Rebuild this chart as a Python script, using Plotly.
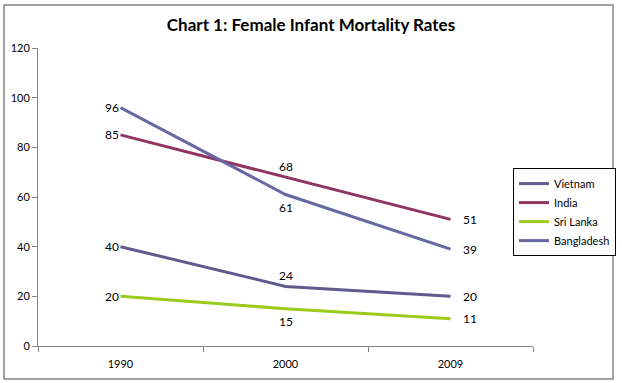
import plotly.graph_objects as go

years = ["1990", "2000", "2009"]
vietnam = [40, 24, 20]
india = [85, 68, 51]
sri_lanka = [20, 15, 11]
bangladesh = [96, 61, 39]

# label placement per point: (xshift, yshift) in pixels
LEFT = (-9, 0)
ABOVE = (0, 11)
BELOW = (0, -13)
RIGHT = (19, 0)

series = [
    ("Vietnam", vietnam, "#5F5B8E", [LEFT, ABOVE, RIGHT]),
    ("India", india, "#903460", [LEFT, ABOVE, RIGHT]),
    ("Sri Lanka", sri_lanka, "#9BCB1B", [LEFT, BELOW, RIGHT]),
    ("Bangladesh", bangladesh, "#6767A3", [LEFT, BELOW, RIGHT]),
]

fig = go.Figure()
annotations = []
for name, vals, color, pos in series:
    fig.add_trace(go.Scatter(
        x=years, y=vals, name=name, mode="lines",
        line=dict(color=color, width=3),
        cliponaxis=False,
    ))
    for i, (v, (dx, dy)) in enumerate(zip(vals, pos)):
        annotations.append(dict(
            x=i, y=v, xref="x", yref="y", text=str(v), showarrow=False,
            xshift=dx, yshift=dy, xanchor="center", yanchor="middle",
            font=dict(size=12, color="black", family="Lato"),
        ))

fig.update_layout(
    width=622, height=383,
    margin=dict(l=38, r=89, t=48, b=37, autoexpand=False),
    paper_bgcolor="white", plot_bgcolor="white",
    font=dict(family="Lato", size=11, color="black"),
    title=dict(text="<b>Chart 1: Female Infant Mortality Rates</b>",
               x=0.5, xanchor="center", xref="container",
               y=0.935, yanchor="middle",
               font=dict(size=17, family="Lato", color="black"), automargin=False),
    xaxis=dict(type="category", range=[-0.5, 2.5], showgrid=False, automargin=False,
               showline=True, linecolor="#868686", linewidth=1,
               ticks="outside", tickson="boundaries", ticklen=5, tickcolor="#868686",
               ticklabelstandoff=8, tickfont=dict(size=11)),
    yaxis=dict(range=[0, 120], dtick=20, showgrid=False, zeroline=False, automargin=False,
               showline=True, linecolor="#868686", linewidth=1,
               ticks="outside", ticklen=5, tickcolor="#868686",
               tickfont=dict(size=11)),
    legend=dict(x=0.9596, y=0.597, xanchor="left", yanchor="top",
                bordercolor="black", borderwidth=1, bgcolor="white",
                font=dict(size=11), tracegroupgap=0, itemwidth=30),
    showlegend=True,
    annotations=annotations,
    shapes=[dict(type="rect", xref="paper", yref="paper",
                 x0=-0.0687, x1=1.1616, y0=-0.1107, y1=1.1443,
                 line=dict(color="#868686", width=1.5), fillcolor="rgba(0,0,0,0)",
                 layer="below")],
)

fig.write_html("out.html", config={"displayModeBar": False},
               post_script="document.body.style.margin='0';document.body.style.padding='0';")
